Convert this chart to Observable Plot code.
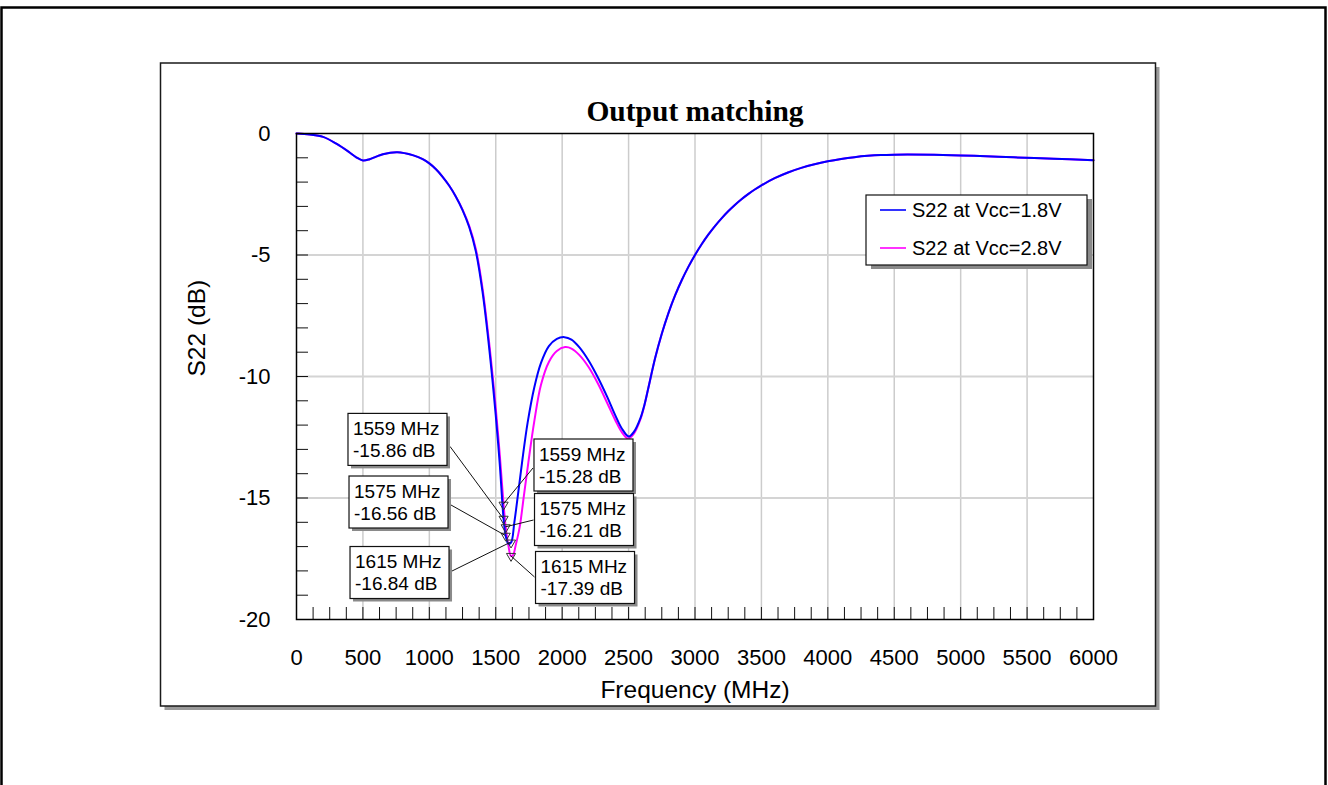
<!DOCTYPE html>
<html>
<head>
<meta charset="utf-8">
<script src="https://cdn.jsdelivr.net/npm/d3@7"></script>
<script src="https://cdn.jsdelivr.net/npm/@observablehq/plot@0.6"></script>
<style>
  html, body { margin: 0; padding: 0; background: #fff; }
  #chart { width: 1328px; height: 785px; overflow: hidden; }
</style>
</head>
<body>
<div id="chart"></div>
<script>
// ---------------- data ----------------
const chartTitle = "Output matching";
const xLabel = "Frequency (MHz)";
const yLabel = "S22 (dB)";
const seriesNames = ["S22 at Vcc=1.8V", "S22 at Vcc=2.8V"];

const freqVcc18 = [0, 100, 200, 300, 400, 450, 500, 550, 600, 650, 760, 880, 950, 1000, 1050, 1100, 1150, 1200, 1250, 1300, 1350, 1400, 1450, 1500, 1530, 1559, 1575, 1595, 1615, 1640, 1670, 1700, 1740, 1790, 1840, 1900, 1960, 2017, 2070, 2130, 2200, 2270, 2340, 2400, 2450, 2502, 2540, 2590, 2620, 2650, 2700, 2750, 2800, 2850, 2900, 2950, 3000, 3050, 3100, 3150, 3200, 3250, 3300, 3350, 3400, 3450, 3500, 3600, 3700, 3800, 3900, 4000, 4100, 4200, 4300, 4400, 4500, 4600, 4800, 5100, 5400, 5700, 6000];
const s22Vcc18 = [0, -0.04, -0.14, -0.42, -0.78, -0.98, -1.11, -1.06, -0.95, -0.85, -0.77, -0.9, -1.05, -1.23, -1.47, -1.78, -2.15, -2.6, -3.15, -3.85, -4.85, -6.5, -8.8, -11.6, -13.6, -15.86, -16.56, -16.88, -16.84, -16.0, -14.75, -13.45, -11.9, -10.45, -9.45, -8.75, -8.45, -8.38, -8.48, -8.8, -9.35, -10.05, -10.85, -11.6, -12.15, -12.47, -12.28, -11.7, -11.15, -10.44, -9.24, -8.24, -7.39, -6.665, -6.04, -5.49, -5.0, -4.56, -4.165, -3.81, -3.49, -3.2, -2.94, -2.705, -2.495, -2.305, -2.135, -1.84, -1.605, -1.415, -1.265, -1.145, -1.05, -0.975, -0.92, -0.885, -0.87, -0.865, -0.875, -0.92, -0.98, -1.04, -1.1];

const freqVcc28 = [0, 100, 200, 300, 400, 450, 500, 550, 600, 650, 760, 880, 950, 1000, 1050, 1100, 1150, 1200, 1250, 1300, 1350, 1400, 1450, 1500, 1530, 1559, 1575, 1595, 1615, 1630, 1650, 1680, 1712, 1745, 1790, 1840, 1900, 1960, 2022, 2070, 2130, 2200, 2270, 2340, 2400, 2450, 2496, 2540, 2590, 2620, 2650, 2700, 2750, 2800, 2850, 2900, 2950, 3000, 3050, 3100, 3150, 3200, 3250, 3300, 3350, 3400, 3450, 3500, 3600, 3700, 3800, 3900, 4000, 4100, 4200, 4300, 4400, 4500, 4600, 4800, 5100, 5400, 5700, 6000];
const s22Vcc28 = [0, -0.04, -0.14, -0.42, -0.78, -0.98, -1.11, -1.06, -0.95, -0.85, -0.77, -0.9, -1.05, -1.23, -1.47, -1.78, -2.15, -2.6, -3.13, -3.8, -4.75, -6.35, -8.6, -11.3, -13.2, -15.28, -16.21, -16.95, -17.39, -17.35, -16.95, -16.2, -14.9, -13.55, -11.85, -10.35, -9.4, -8.95, -8.79, -8.85, -9.12, -9.62, -10.3, -11.1, -11.8, -12.3, -12.55, -12.35, -11.75, -11.17, -10.44, -9.24, -8.24, -7.39, -6.665, -6.04, -5.49, -5.0, -4.56, -4.165, -3.81, -3.49, -3.2, -2.94, -2.705, -2.495, -2.305, -2.135, -1.84, -1.605, -1.415, -1.265, -1.145, -1.05, -0.975, -0.92, -0.885, -0.87, -0.865, -0.875, -0.92, -0.98, -1.04, -1.1];

const markerFreq = [1559, 1575, 1615];
const markerVcc18 = [-15.86, -16.56, -16.84];
const markerVcc28 = [-15.28, -16.21, -17.39];

const xTicks = [0, 500, 1000, 1500, 2000, 2500, 3000, 3500, 4000, 4500, 5000, 5500, 6000];
const yTicks = [0, -5, -10, -15, -20];
const xGrid = [500, 1000, 1500, 2000, 2500, 3000, 3500, 4000, 4500, 5000, 5500];
const yGrid = [-5, -10, -15];
const xMinorTicks = d3.range(125, 6000, 125);
const yMinorTicks = d3.range(-1, -20, -1);

// ---------------- layout / style ----------------
const W = 1328, H = 785;
const M = {left: 296, right: 235, top: 133, bottom: 166};
const innerW = W - M.left - M.right, innerH = H - M.top - M.bottom;
const colors = ["#0000ff", "#ff00ff"];
const sans = "'Liberation Sans', Arial, sans-serif";
const serif = "'Liberation Serif', 'Times New Roman', serif";

// label box offsets (pixels from the marked point)
const annLayout = [
  {s: 0, i: 0, dx: -105.6, dy: -79, ly: 7},
  {s: 0, i: 1, dx: -106.7, dy: -33.4, ly: 3},
  {s: 0, i: 2, dx: -111, dy: 30.3, ly: -1.5},
  {s: 1, i: 0, dx: 80.4, dy: -39.3, ly: 3},
  {s: 1, i: 1, dx: 78.8, dy: -7.4, ly: 0.5},
  {s: 1, i: 2, dx: 74.5, dy: 21.9, ly: -0.5}
];

const rows18 = freqVcc18.map((f, i) => ({f, v: s22Vcc18[i]}));
const rows28 = freqVcc28.map((f, i) => ({f, v: s22Vcc28[i]}));
const markerRows = [
  ...markerFreq.map((f, i) => ({f, v: markerVcc18[i], s: 0})),
  ...markerFreq.map((f, i) => ({f, v: markerVcc28[i], s: 1}))
];

const plot = Plot.plot({
  width: W, height: H,
  marginLeft: M.left, marginRight: M.right, marginTop: M.top, marginBottom: M.bottom,
  x: {domain: [0, 6000]},
  y: {domain: [-20, 0]},
  style: {fontFamily: sans, background: "transparent", color: "black", overflow: "visible"},
  marks: [
    Plot.gridX(xGrid, {stroke: "#cccccc", strokeOpacity: 1, strokeWidth: 1.5}),
    Plot.gridY(yGrid, {stroke: "#d4d4d4", strokeOpacity: 1, strokeWidth: 1.8}),
    Plot.tickX(xMinorTicks, {x: d => d, stroke: "#111", strokeWidth: 1, insetTop: innerH - 12}),
    Plot.tickY(yMinorTicks, {y: d => d, stroke: "#111", strokeWidth: 1, insetRight: innerW - 12}),
    Plot.line(rows28, {x: "f", y: "v", stroke: colors[1], strokeWidth: 2, curve: "catmull-rom"}),
    Plot.line(rows18, {x: "f", y: "v", stroke: colors[0], strokeWidth: 2, curve: "catmull-rom"}),
    Plot.frame({stroke: "black", strokeWidth: 1.5}),
    Plot.dot(markerRows, {x: "f", y: "v", symbol: "triangle", rotate: 180, r: 3.4, stroke: "#333", strokeWidth: 1, fill: "none"}),
    Plot.axisX(xTicks, {tickSize: 0, tickPadding: 30, fontSize: 22, label: null, tickFormat: d => String(d)}),
    Plot.axisY(yTicks, {tickSize: 0, tickPadding: 26, fontSize: 22, label: null, tickFormat: d => String(d)}),
    Plot.text([xLabel], {text: d => d, frameAnchor: "bottom", lineAnchor: "middle", dy: 71, fontSize: 24.5, fill: "black"}),
    Plot.text([yLabel], {text: d => d, frameAnchor: "left", lineAnchor: "middle", dx: -99, rotate: -90, fontSize: 24.5, fill: "black"}),
    Plot.text([chartTitle], {text: d => d, frameAnchor: "top", lineAnchor: "middle", dy: -22, fontSize: 29.5, fontWeight: "bold", fontFamily: serif, fill: "black"})
  ]
});

document.getElementById("chart").appendChild(plot);

// ---------------- decorations ----------------
const svg = d3.select(plot);
const sx = plot.scale("x"), sy = plot.scale("y");
const x1 = sx.range[1], yTop = sy.range[1];

// panel (drawn underneath everything)
const panel = {x: 160.5, y: 63, w: 995, h: 643};
svg.insert("rect", ":first-child")
  .attr("x", panel.x).attr("y", panel.y).attr("width", panel.w).attr("height", panel.h)
  .attr("fill", "white").attr("stroke", "#1a1a1a").attr("stroke-width", 1.5);
svg.insert("rect", ":first-child")
  .attr("x", panel.x + 4).attr("y", panel.y + 4).attr("width", panel.w).attr("height", panel.h)
  .attr("fill", "#9a9a9a");
svg.insert("rect", ":first-child")
  .attr("x", 1.5).attr("y", 7.5).attr("width", 1324).attr("height", 820)
  .attr("fill", "white").attr("stroke", "black").attr("stroke-width", 2.5);

function txt(g, x, y, s, size) {
  return g.append("text").attr("x", x).attr("y", y).attr("dy", "0.35em")
    .style("font-family", sans).style("font-size", size + "px")
    .style("text-anchor", "start").attr("text-anchor", "start")
    .attr("fill", "black").text(s);
}

// annotation boxes
const ann = svg.append("g");
const bw = 99, bh = 52;
annLayout.forEach(a => {
  const f = markerFreq[a.i];
  const v = (a.s === 0 ? markerVcc18 : markerVcc28)[a.i];
  const px = sx.apply(f), py = sy.apply(v);
  const cx = px + a.dx, cy = py + a.dy;
  const bx = cx - bw / 2, by = cy - bh / 2;
  const startX = a.dx < 0 ? bx + bw + 3 : bx - 1;
  ann.append("line")
    .attr("x1", startX).attr("y1", cy + a.ly).attr("x2", px).attr("y2", py)
    .attr("stroke", "#111").attr("stroke-width", 1);
  ann.append("rect").attr("x", bx + 3).attr("y", by + 3).attr("width", bw).attr("height", bh)
    .attr("fill", "#8a8a8a");
  ann.append("rect").attr("x", bx).attr("y", by).attr("width", bw).attr("height", bh)
    .attr("fill", "white").attr("stroke", "#111").attr("stroke-width", 1.2);
  txt(ann, bx + 5, by + 15, `${f} MHz`, 19);
  txt(ann, bx + 5, by + 37, `${v.toFixed(2)} dB`, 19);
});

// legend
const lg = svg.append("g");
const lx = x1 - 227, ly = yTop + 62, lw = 221, lh = 70;
lg.append("rect").attr("x", lx + 5).attr("y", ly + 4).attr("width", lw).attr("height", lh).attr("fill", "#8a8a8a");
lg.append("rect").attr("x", lx).attr("y", ly).attr("width", lw).attr("height", lh)
  .attr("fill", "white").attr("stroke", "#111").attr("stroke-width", 1.2);
seriesNames.forEach((name, k) => {
  const yy = ly + 15 + k * 38;
  lg.append("line").attr("x1", lx + 14).attr("x2", lx + 40).attr("y1", yy).attr("y2", yy)
    .attr("stroke", colors[k]).attr("stroke-width", 1.6);
  txt(lg, lx + 46, yy, name, 20);
});
</script>
</body>
</html>
